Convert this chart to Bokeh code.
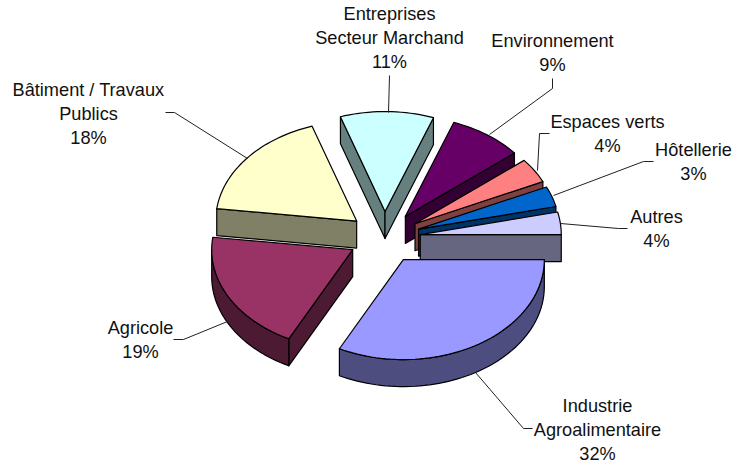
import math
from bokeh.embed import file_html
from bokeh.resources import INLINE
from bokeh.plotting import figure
from bokeh.models import Range1d
from bokeh.core.properties import value

# data, clockwise from the horizontal right-hand edge of the pie
categories = ["Industrie Agroalimentaire", "Agricole", "Bâtiment / Travaux Publics",
              "Entreprises Secteur Marchand", "Environnement", "Espaces verts",
              "Hôtellerie", "Autres"]
shares = [32.49, 19.49, 17.9, 10.7, 8.5, 4.0, 3.3, 3.62]
tops = ["#9999FF", "#993366", "#FFFFCC", "#CCFFFF", "#660066", "#FF8080", "#0066CC", "#CCCCFF"]
sides = ["#4D4D80", "#4D1A33", "#808066", "#668080", "#330033", "#804040", "#003366", "#666680"]
label_lines = [
    ["Industrie", "Agroalimentaire", "32%"],
    ["Agricole", "19%"],
    ["Bâtiment / Travaux", "Publics", "18%"],
    ["Entreprises", "Secteur Marchand", "11%"],
    ["Environnement", "9%"],
    ["Espaces verts", "4%"],
    ["Hôtellerie", "3%"],
    ["Autres", "4%"],
]

# layout (page pixels)
CX, CY, RX, RY, DEPTH = 384.0, 237.0, 141.0, 100.0, 27.0
EXPLODE, EXPLODE_Y = 36.0, 0.72
START = 90.0
FONT_PX = 18.2
label_pos = [(597, 405), (140, 327), (88, 89), (389, 13), (552, 40), (607, 121), (693, 149), (656, 216)]
LINE_STEP = 24
leaders = [
    [(475, 372), (523, 428), (532, 428)],
    [(227, 321), (183, 339), (173, 339)],
    [(247, 158), (174, 112), (165, 112)],
    [(388, 112), (389, 75)],
    [(489, 134), (552, 88), (552, 78)],
    [(537, 170), (539, 133), (549, 133)],
    [(553, 195), (643, 161), (653, 161)],
    [(560, 223), (618, 228), (627, 228)],
]
draw_order = [3, 4, 5, 6, 7, 2, 1, 0]

total = sum(shares)
spans = []
a = START
for s in shares:
    b = a + s / total * 360.0
    spans.append((a, b))
    a = b


def rim(ax, ay, t):
    r = math.radians(t)
    return ax + RX * math.sin(r), ay - RY * math.cos(r)


def arc(ax, ay, t0, t1):
    n = max(2, int(abs(t1 - t0) / 2) + 1)
    return [rim(ax, ay, t0 + (t1 - t0) * i / n) for i in range(n + 1)]


xs, ys, fills = [], [], []


def add(points, colour):
    xs.append([q[0] for q in points])
    ys.append([q[1] for q in points])
    fills.append(colour)


for i in draw_order:
    t0, t1 = spans[i]
    mid = math.radians((t0 + t1) / 2)
    ax = CX + EXPLODE * math.sin(mid)
    ay = CY - EXPLODE * EXPLODE_Y * math.cos(mid)
    # side faces that look toward the viewer
    if math.cos(math.radians(t0 - 90)) < 0:
        e = rim(ax, ay, t0)
        add([(ax, ay), e, (e[0], e[1] + DEPTH), (ax, ay + DEPTH)], sides[i])
    if math.cos(math.radians(t1 + 90)) < 0:
        e = rim(ax, ay, t1)
        add([(ax, ay), e, (e[0], e[1] + DEPTH), (ax, ay + DEPTH)], sides[i])
    w0, w1 = max(t0, 90.0), min(t1, 270.0)
    if w1 > w0:
        top = arc(ax, ay, w0, w1)
        add(top + [(q[0], q[1] + DEPTH) for q in reversed(top)], sides[i])
    add([(ax, ay)] + arc(ax, ay, t0, t1), tops[i])

p = figure(width=735, height=465, output_backend="svg", toolbar_location=None,
           x_range=Range1d(0, 735), y_range=Range1d(465, 0),
           min_border=0, outline_line_color=None, background_fill_color="white")
p.axis.visible = False
p.grid.visible = False

p.patches(xs, ys, fill_color=fills, line_color="black", line_width=1.2, line_join="round")

p.multi_line([[q[0] for q in l] for l in leaders], [[q[1] for q in l] for l in leaders],
             line_color="#202020", line_width=1)

tx, ty, tt = [], [], []
for lines, (x, y) in zip(label_lines, label_pos):
    for j, line in enumerate(lines):
        tx.append(x)
        ty.append(y + j * LINE_STEP)
        tt.append(line)
p.text(tx, ty, text=tt, text_font=value("Liberation Sans"), text_font_size=f"{FONT_PX}px",
       text_align="center", text_baseline="alphabetic", text_color="#111111")

open("out.html", "w").write(file_html(p, INLINE))
